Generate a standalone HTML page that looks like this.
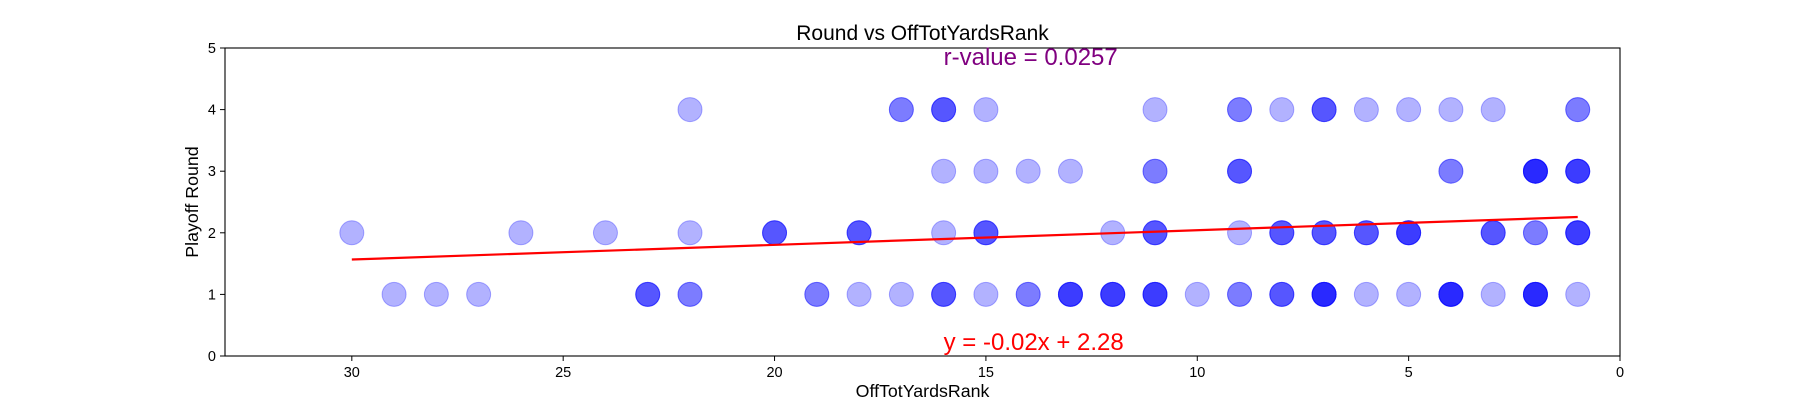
<!DOCTYPE html>
<html><head><meta charset="utf-8"><style>
html,body{margin:0;padding:0;background:#fff;}
svg{display:block;font-family:"Liberation Sans","DejaVu Sans",sans-serif;}
</style></head><body>
<svg id="chart" width="1800" height="400" xmlns="http://www.w3.org/2000/svg"></svg>
<script>
const ranks1 = [29,28,27,23,23,23,22,22,19,19,18,17,16,16,16,15,14,14,13,13,13,13,12,12,12,12,11,11,11,11,10,9,9,8,8,8,7,7,7,7,7,6,5,4,4,4,4,4,3,2,2,2,2,2,1];
const ranks2 = [30,26,24,22,20,20,20,18,18,18,16,15,15,15,12,11,11,11,9,8,8,8,7,7,7,6,6,6,5,5,5,5,3,3,3,2,2,1,1,1,1];
const ranks3 = [16,15,14,13,11,11,9,9,9,4,4,2,2,2,2,2,1,1,1,1];
const ranks4 = [22,17,17,16,16,16,15,11,9,9,8,7,7,7,6,5,4,3,1,1];
const regression = [-0.0238, 2.28];
const xTicks = [30,25,20,15,10,5,0];
const yTicks = [0,1,2,3,4,5];
const rLabel = "r-value = 0.0257";
const eqLabel = "y = -0.02x + 2.28";

const NS="http://www.w3.org/2000/svg";
const svg=document.getElementById('chart');
const L=225,R=1620,T=48,B=356;
const xMin=33,xMax=0,yMin=0,yMax=5;
const sx=v=>L+(v-xMin)/(xMax-xMin)*(R-L);
const sy=v=>B-(v-yMin)/(yMax-yMin)*(B-T);
function mk(tag,attrs){const e=document.createElementNS(NS,tag);for(const k in attrs)e.setAttribute(k,attrs[k]);svg.appendChild(e);return e;}

const rounds=[[1,ranks1],[2,ranks2],[3,ranks3],[4,ranks4]];
rounds.forEach(([rd,arr])=>{
  arr.forEach(r=>{
    const c=mk('circle',{cx:sx(r),cy:sy(rd),r:12,fill:'rgba(0,0,255,0.3)',stroke:'rgba(0,0,255,0.3)','stroke-width':1});
    
    
  });
});

const x1=30,x2=1;
const ln=mk('line',{x1:sx(x1),y1:sy(regression[0]*x1+regression[1]),x2:sx(x2),y2:sy(regression[0]*x2+regression[1]),stroke:'#ff0000','stroke-width':2.2});



const frame=mk('rect',{x:L,y:T,width:R-L,height:B-T,fill:'none',stroke:'#000','stroke-width':1.1});



xTicks.forEach(t=>{
  mk('line',{x1:sx(t),x2:sx(t),y1:B,y2:B+5,stroke:'#000'});
  const tx=mk('text',{x:sx(t),y:B+21,'text-anchor':'middle','font-size':14.5,fill:'#000'});
  tx.textContent=t;
  
  
});
yTicks.forEach(t=>{
  mk('line',{x1:L-5,x2:L,y1:sy(t),y2:sy(t),stroke:'#000'});
  const tx=mk('text',{x:L-9,y:sy(t)+5,'text-anchor':'end','font-size':14.5,fill:'#000'});
  tx.textContent=t;
  
  
});

const title=mk('text',{x:(L+R)/2,y:40,'text-anchor':'middle','font-size':21,fill:'#000'});
title.textContent='Round vs OffTotYardsRank';



const xl=mk('text',{x:(L+R)/2,y:397,'text-anchor':'middle','font-size':17.8,fill:'#000'});
xl.textContent='OffTotYardsRank';



const yl=mk('text',{x:0,y:0,'text-anchor':'middle','font-size':17.8,fill:'#000',transform:`translate(198,${(T+B)/2}) rotate(-90)`});
yl.textContent='Playoff Round';



const rv=mk('text',{x:sx(16),y:sy(4.72),'font-size':24,fill:'#800080'});
rv.textContent=rLabel;



const eq=mk('text',{x:sx(16),y:sy(0.1),'font-size':24,fill:'#ff0000'});
eq.textContent=eqLabel;


</script>
</body></html>
